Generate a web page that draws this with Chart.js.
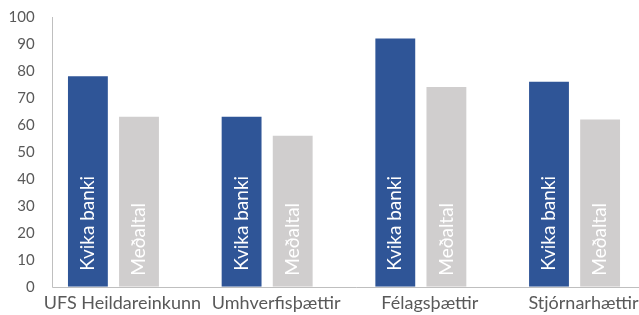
<!DOCTYPE html>
<html>
<head>
<meta charset="utf-8">
<script src="https://cdn.jsdelivr.net/npm/chart.js@4"></script>
<style>
  html, body { margin: 0; padding: 0; background: #fff; overflow: hidden; }
  #wrap { width: 660px; height: 315px; }
</style>
</head>
<body>
<div id="wrap"><canvas id="esg-chart" width="660" height="315"></canvas></div>
<script>
const categories = ['UFS Heildareinkunn', 'Umhverfisþættir', 'Félagsþættir', 'Stjórnarhættir'];
const kvikaValues = [78, 63, 92, 76];
const averageValues = [63, 56, 74, 62];
const seriesNames = ['Kvika banki', 'Meðaltal'];

const axisColor = '#bfbfbf';
const textColor = '#595959';

// labels written inside each bar, rotated, starting near the base
const barText = {
  id: 'barText',
  afterDatasetsDraw(chart) {
    const ctx = chart.ctx;
    chart.data.datasets.forEach((ds, i) => {
      chart.getDatasetMeta(i).data.forEach(bar => {
        ctx.save();
        ctx.translate(bar.x, bar.base - ds.textPad);
        ctx.rotate(-Math.PI / 2);
        ctx.font = '19px Lato';
        ctx.fillStyle = '#ffffff';
        ctx.textAlign = 'left';
        ctx.textBaseline = 'middle';
        ctx.fillText(ds.label, 0, 0);
        ctx.restore();
      });
    });
  }
};

// axis lines: the vertical one sits a little inside the first category
const axisLines = {
  id: 'axisLines',
  beforeDatasetsDraw(chart) {
    const { ctx, chartArea } = chart;
    const x0 = Math.round(chartArea.left + 15.5) + 0.5;
    const y0 = Math.round(chartArea.bottom) + 0.5;
    ctx.save();
    ctx.strokeStyle = axisColor;
    ctx.lineWidth = 1;
    ctx.beginPath();
    ctx.moveTo(x0, chartArea.top);
    ctx.lineTo(x0, y0);
    ctx.lineTo(chart.width, y0);
    ctx.stroke();
    ctx.restore();
  }
};

new Chart(document.getElementById('esg-chart'), {
  type: 'bar',
  data: {
    labels: categories,
    datasets: [{
      label: seriesNames[0],
      data: kvikaValues,
      backgroundColor: '#2f5597',
      textPad: 16
    }, {
      label: seriesNames[1],
      data: averageValues,
      backgroundColor: '#d0cece',
      textPad: 11
    }]
  },
  options: {
    responsive: false,
    animation: false,
    categoryPercentage: 0.665,
    barPercentage: 0.78,
    layout: { padding: { top: 17, right: 8.6, left: 0, bottom: 0 } },
    plugins: {
      legend: { display: false },
      tooltip: { enabled: false }
    },
    scales: {
      x: {
        grid: { display: false, drawTicks: false },
        border: { display: false },
        ticks: {
          color: textColor,
          font: { family: 'Lato', size: 18 },
          padding: 6,
          labelOffset: 9,
          maxRotation: 0,
          autoSkip: false
        },
        afterFit(scale) { scale.height = 28.3; }
      },
      y: {
        min: 0,
        max: 100,
        grid: { display: false, drawTicks: false },
        border: { display: false },
        ticks: {
          stepSize: 10,
          color: textColor,
          font: { family: 'Lato', size: 15 },
          padding: 2
        },
        afterFit(scale) { scale.width = 36.6; }
      }
    }
  },
  plugins: [axisLines, barText]
});
</script>
</body>
</html>
